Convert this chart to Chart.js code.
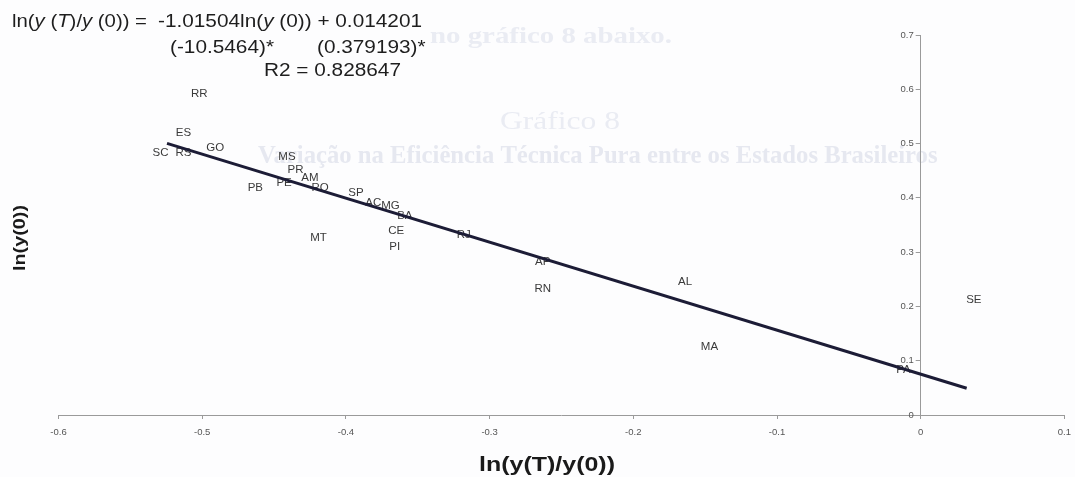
<!DOCTYPE html>
<html>
<head>
<meta charset="utf-8">
<script src="https://cdn.jsdelivr.net/npm/chart.js@4.4.0/dist/chart.umd.min.js"></script>
<style>
  html, body { margin: 0; padding: 0; background: #fdfdfe; }
  #wrap { width: 1075px; height: 477px; position: relative; }
</style>
</head>
<body>
<div id="wrap"><canvas id="c" width="1075" height="477"></canvas></div>
<script>
// Brazilian states: growth of pure technical efficiency vs. initial level
const states  = ['RR','ES','SC','RS','GO','MS','PR','AM','PE','PB','RO','SP','AC','MG','BA','CE','PI','MT','RJ','AP','RN','AL','MA','SE','PA'];
// ln(y(T)/y(0))
const growth  = [-0.502,-0.513,-0.529,-0.513,-0.491,-0.441,-0.435,-0.425,-0.443,-0.463,-0.418,-0.393,-0.381,-0.369,-0.359,-0.365,-0.366,-0.419,-0.318,-0.263,-0.263,-0.164,-0.147,0.037,-0.012];
// ln(y(0))
const initial = [0.591,0.520,0.483,0.483,0.493,0.476,0.452,0.436,0.427,0.419,0.419,0.409,0.390,0.385,0.366,0.339,0.310,0.327,0.332,0.282,0.233,0.246,0.126,0.213,0.084];

// fitted regression line end points
const fitX = [-0.5245, 0.032];
const fitY = [0.5004, 0.0492];

// axis ranges and steps
const xRange = [-0.6, 0.1];
const yRange = [0, 0.7];
const tickStep = 0.1;

const SANS = '"Liberation Sans", Arial, Helvetica, sans-serif';
const SERIF = '"Liberation Serif", "DejaVu Serif", serif';

// draw a run of text segments (some italic) with a horizontal scale factor
function drawRun(ctx, segs, x, y, sx, size, color) {
  ctx.save();
  ctx.translate(x, y);
  ctx.scale(sx, 1);
  ctx.fillStyle = color;
  ctx.textBaseline = 'alphabetic';
  ctx.textAlign = 'left';
  let cx = 0;
  for (const s of segs) {
    ctx.font = (s.i ? 'italic ' : '') + size + 'px ' + SANS;
    ctx.fillText(s.t, cx, 0);
    cx += ctx.measureText(s.t).width;
  }
  ctx.restore();
}
function runWidth(ctx, segs, size) {
  let w = 0;
  for (const s of segs) {
    ctx.font = (s.i ? 'italic ' : '') + size + 'px ' + SANS;
    w += ctx.measureText(s.t).width;
  }
  return w;
}
// one line of text, left aligned at x; the part up to `upto` characters spans `width`
function fitText(ctx, text, font, x, y, width, upto) {
  ctx.save();
  ctx.font = font;
  ctx.textAlign = 'left';
  ctx.textBaseline = 'middle';
  const w = ctx.measureText(upto ? text.slice(0, upto) : text).width;
  ctx.translate(x, y);
  ctx.scale(width / w, 1);
  ctx.fillText(text, 0, 0);
  ctx.restore();
}

const pageTextPlugin = {
  id: 'pageText',
  afterLayout(chart) {
    // the vertical axis crosses the horizontal one at x = 0
    const y = chart.scales.y;
    const px = chart.scales.x.getPixelForValue(0);
    y.left = px - 45;
    y.right = px;
  },
  beforeDraw(chart) {
    const ctx = chart.ctx;
    ctx.save();
    ctx.fillStyle = '#fdfdfe';
    ctx.fillRect(0, 0, chart.width, chart.height);
    // faint print-through from the facing page
    ctx.fillStyle = '#eaecf3';
    fitText(ctx, 'no gráfico 8 abaixo.', 'bold 24px ' + SERIF, 430, 37, 242);
    fitText(ctx, 'Gráfico 8', '26px ' + SERIF, 500, 122, 120);
    ctx.fillStyle = '#e6e8f0';
    const sub = 'Variação na Eficiência Técnica Pura entre os Estados Brasileiros';
    fitText(ctx, sub, 'bold 26px ' + SERIF, 258, 156, 560, sub.indexOf(' Brasileiros'));
    ctx.restore();
  },
  afterDraw(chart) {
    const ctx = chart.ctx;
    // regression equation
    const size = 17.5;
    const lhs = [{t:'ln('},{t:'y',i:1},{t:' ('},{t:'T',i:1},{t:')/'},{t:'y',i:1},{t:' (0)) ='}];
    const rhs = [{t:'-1.01504ln('},{t:'y',i:1},{t:' (0)) + 0.014201'}];
    const sx = 264 / runWidth(ctx, rhs, size);
    const sxl = 135 / runWidth(ctx, lhs, size);
    drawRun(ctx, lhs, 12, 27, sxl, size, '#1e1e1e');
    drawRun(ctx, rhs, 158, 27, sx, size, '#1e1e1e');
    drawRun(ctx, [{t:'(-10.5464)*'}], 170, 53, sx, size, '#1e1e1e');
    drawRun(ctx, [{t:'(0.379193)*'}], 317, 53, sx, size, '#1e1e1e');
    drawRun(ctx, [{t:'R2 = 0.828647'}], 264, 76, sx, size, '#1e1e1e');

    // axis titles
    ctx.save();
    ctx.fillStyle = '#1a1a1a';
    ctx.textAlign = 'center';
    ctx.textBaseline = 'middle';
    ctx.font = 'bold 20px ' + SANS;
    const tx = 'ln(y(T)/y(0))';
    const wx = ctx.measureText(tx).width;
    ctx.translate(547, 465);
    ctx.scale(136 / wx, 1);
    ctx.fillText(tx, 0, 0);
    ctx.restore();

    ctx.save();
    ctx.fillStyle = '#1a1a1a';
    ctx.textAlign = 'center';
    ctx.textBaseline = 'middle';
    ctx.font = 'bold 17px ' + SANS;
    const ty = 'ln(y(0))';
    const wy = ctx.measureText(ty).width;
    ctx.translate(20, 238);
    ctx.rotate(-Math.PI / 2);
    ctx.scale(66 / wy, 1);
    ctx.fillText(ty, 0, 0);
    ctx.restore();
  },
  beforeDatasetsDraw(chart) {
    // state codes stand in for the scatter markers
    const ctx = chart.ctx;
    const meta = chart.getDatasetMeta(0);
    ctx.save();
    ctx.fillStyle = '#3a3a3a';
    ctx.font = '11.5px ' + SANS;
    ctx.textAlign = 'center';
    ctx.textBaseline = 'middle';
    meta.data.forEach((el, i) => {
      ctx.fillText(states[i], el.x, el.y);
    });
    ctx.restore();
  }
};

const fmt = v => (Math.abs(v) < 1e-9 ? '0' : (Math.round(v * 10) / 10).toString());

new Chart(document.getElementById('c'), {
  type: 'scatter',
  data: {
    datasets: [
      {
        label: 'Estados',
        data: states.map((s, i) => ({ x: growth[i], y: initial[i] })),
        pointRadius: 0,
        pointHoverRadius: 0,
        showLine: false
      },
      {
        type: 'line',
        label: 'Regressão',
        data: fitX.map((x, i) => ({ x: x, y: fitY[i] })),
        borderColor: '#1c1c36',
        borderWidth: 3,
        pointRadius: 0,
        fill: false,
        tension: 0
      }
    ]
  },
  options: {
    responsive: false,
    animation: false,
    devicePixelRatio: 1,
    layout: { padding: { left: 58.5, right: 10.6, top: 35, bottom: 40 } },
    plugins: { legend: { display: false }, tooltip: { enabled: false } },
    scales: {
      x: {
        type: 'linear',
        position: 'bottom',
        min: xRange[0],
        max: xRange[1],
        afterFit(scale) { scale.height = 22; scale.paddingLeft = 0; scale.paddingRight = 0; },
        ticks: {
          stepSize: tickStep,
          font: { family: SANS, size: 9.5 },
          color: '#555',
          padding: 8,
          callback: v => fmt(v)
        },
        grid: { drawOnChartArea: false, tickLength: 4, color: '#9a9a9a' },
        border: { color: '#9a9a9a', width: 1 }
      },
      y: {
        type: 'linear',
        position: 'left',
        min: yRange[0],
        max: yRange[1],
        afterFit(scale) { scale.width = 0; },
        ticks: {
          stepSize: tickStep,
          font: { family: SANS, size: 9.5 },
          color: '#555',
          padding: 2,
          crossAlign: 'near',
          callback: v => fmt(v)
        },
        grid: { drawOnChartArea: false, tickLength: 5, color: '#9a9a9a' },
        border: { color: '#9a9a9a', width: 1 }
      }
    }
  },
  plugins: [pageTextPlugin]
});
</script>
</body>
</html>
